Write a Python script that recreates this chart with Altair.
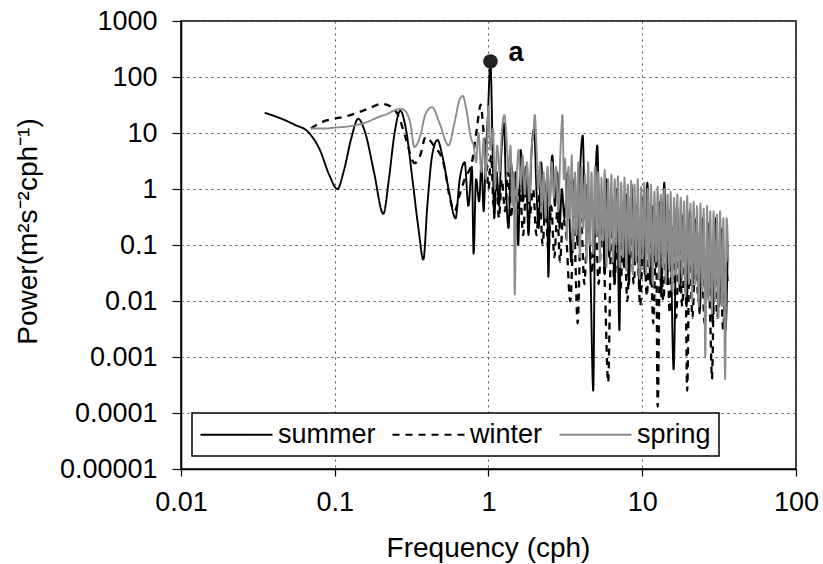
import altair as alt
import pandas as pd

FONT = "Liberation Sans"

series_names = ["summer", "winter", "spring"]
series_colors = ["#000000", "#000000", "#8c8c8c"]
series_dashes = [[1, 0], [7, 6], [1, 0]]
series_widths = [1.9, 2.3, 1.9]

x_ticks = [0.01, 0.1, 1, 10, 100]
y_ticks = [0.00001, 0.0001, 0.001, 0.01, 0.1, 1, 10, 100, 1000]

# ---- summer (solid black) ----
summer_f = [
    0.035, 0.045, 0.055, 0.067, 0.08, 0.092, 0.104, 0.115, 0.128, 0.142,
    0.158, 0.18, 0.207, 0.225, 0.245, 0.267, 0.29, 0.32, 0.35, 0.377,
    0.40, 0.43, 0.466, 0.5, 0.55, 0.61, 0.65, 0.7, 0.74, 0.78,
    0.8, 0.83, 0.87, 0.9, 0.93, 0.96, 0.99, 1.03, 1.06, 1.09,
    1.13, 1.17, 1.21, 1.26, 1.3, 1.35, 1.4, 1.45, 1.5, 1.56,
    1.62, 1.68, 1.75, 1.82, 1.9, 1.98, 2.05, 2.12, 2.2, 2.3,
    2.4, 2.45, 2.52, 2.6, 2.7, 2.8, 2.9, 3.0,
]
summer_p = [
    23, 18, 14, 10.5, 5, 1.8, 1.0, 2.2, 8, 18,
    10, 2, 0.36, 1.5, 10, 25, 12, 1.5, 0.2, 0.055,
    0.5, 4, 7.5, 4, 1, 0.3, 1.5, 3, 0.5, 2.5,
    0.07, 1.5, 0.6, 3, 0.4, 4, 20, 190, 8, 0.3,
    2, 0.5, 4, 15, 1, 0.2, 3, 0.8, 2, 0.1,
    5, 0.6, 2.5, 0.15, 4, 12, 1, 0.2, 3, 0.3,
    1.5, 0.027, 0.8, 4, 0.5, 2, 0.2, 1,
]
summer_hf_f = [
    3.12, 3.28, 3.45, 3.62, 3.8, 3.95, 4.1, 4.25, 4.4, 4.6,
    4.8, 4.95, 5.1, 5.3, 5.5, 5.7, 5.9, 6.1, 6.35, 6.6,
    6.85, 7.1, 7.3, 7.6, 7.9, 8.2, 8.5, 8.8, 9.2, 9.6,
    10.0, 10.4, 10.8, 11.3, 11.8, 12.3, 12.8, 13.3, 13.9, 14.5,
    15.1, 16.0, 16.8, 17.6, 18.5, 19.4, 20.4, 21.4, 22.5, 23.6,
    24.8, 26.0, 27.3, 28.7, 30.1, 31.6, 33.2, 34.8, 36.0,
]
summer_hf_p = [
    0.3, 2, 0.05, 1.5, 0.1, 2.5, 9, 0.3, 1.2, 0.04,
    0.00025, 1, 6, 0.1, 0.8, 0.03, 1.5, 0.06, 0.7, 0.02,
    1, 0.003, 0.6, 0.04, 0.8, 0.02, 1.2, 0.05, 0.5, 0.015,
    0.7, 0.03, 1.3, 0.02, 0.5, 0.04, 0.6, 0.012, 1.3, 0.02,
    0.4, 0.0006, 0.5, 0.015, 0.35, 0.008, 0.4, 0.02, 0.3, 0.006,
    0.3, 0.01, 0.25, 0.004, 0.3, 0.008, 0.2, 0.003, 0.1,
]

# ---- winter (dashed black) ----
winter_f = [
    0.07, 0.084, 0.1, 0.12, 0.14, 0.17, 0.2, 0.23, 0.26, 0.29,
    0.33, 0.36, 0.39, 0.44, 0.51, 0.56, 0.6, 0.65, 0.7, 0.78,
    0.84, 0.89, 0.93, 0.97, 1.0, 1.04, 1.08, 1.12, 1.17, 1.22,
    1.28, 1.34, 1.4, 1.46, 1.52, 1.6, 1.68, 1.76, 1.85, 1.95,
    2.05, 2.15, 2.25, 2.35, 2.45, 2.56, 2.68, 2.8, 2.92, 3.05,
]
winter_p = [
    12, 16, 18, 20, 23, 28, 33, 30, 20, 8,
    2.9, 4, 8.5, 6, 2.9, 0.7, 0.4, 0.8, 1.5, 3,
    12, 32, 10, 3, 1, 4, 0.5, 2, 0.3, 1.5,
    0.4, 2, 0.3, 1.5, 0.2, 1, 0.15, 1.2, 0.3, 1,
    0.15, 0.8, 0.1, 0.6, 0.08, 0.5, 0.06, 0.4, 0.05, 0.3,
]
winter_hf_f = [
    3.2, 3.4, 3.6, 3.8, 4.0, 4.2, 4.45, 4.7, 4.95, 5.2,
    5.5, 5.75, 6.0, 6.3, 6.6, 6.9, 7.2, 7.6, 8.0, 8.4,
    8.8, 9.2, 9.7, 10.2, 10.7, 11.2, 11.8, 12.3, 12.6, 13.1,
    13.7, 14.4, 15.1, 15.8, 16.6, 17.4, 18.2, 19.0, 19.6, 20.3,
    21.2, 22.2, 23.2, 24.3, 25.4, 26.6, 27.8, 28.4, 29.5, 30.8,
    32.2, 33.6, 35.0, 36.0,
]
winter_hf_p = [
    0.15, 0.01, 0.2, 0.004, 0.3, 0.02, 0.5, 0.03, 0.4, 0.02,
    0.3, 0.01, 0.00035, 0.2, 0.02, 0.3, 0.015, 0.25, 0.01, 0.3,
    0.02, 0.2, 0.008, 0.3, 0.012, 0.2, 0.004, 0.15, 0.00013, 0.2,
    0.01, 0.15, 0.006, 0.2, 0.005, 0.1, 0.008, 0.12, 0.00025, 0.1,
    0.005, 0.08, 0.01, 0.1, 0.004, 0.08, 0.003, 0.0004, 0.06, 0.005,
    0.05, 0.003, 0.04, 0.02,
]

# ---- spring (solid gray) ----
spring_f = [
    0.07, 0.085, 0.1, 0.12, 0.14, 0.165, 0.19, 0.22, 0.25, 0.27,
    0.29, 0.31, 0.33, 0.36, 0.39, 0.43, 0.48, 0.55, 0.6, 0.65,
    0.68, 0.72, 0.77, 0.8, 0.83, 0.86, 0.9, 0.93, 0.96, 1.0,
    1.03, 1.07, 1.1, 1.14, 1.18, 1.22, 1.27, 1.31, 1.35, 1.39,
    1.43, 1.46, 1.48, 1.52, 1.57, 1.62, 1.67, 1.72, 1.78, 1.84,
    1.9, 1.96, 2.0, 2.05, 2.1, 2.16, 2.22, 2.28, 2.35, 2.42,
    2.5, 2.58, 2.66, 2.75, 2.84, 2.93, 3.03, 3.09,
]
spring_p = [
    12, 12, 12.5, 13, 14, 16, 19, 22, 26, 27,
    24, 15, 5.6, 9, 22, 29, 15, 6, 15, 40,
    46, 25, 8, 6, 3, 10, 2, 8, 1.5, 30,
    5, 12, 1, 6, 2, 10, 21, 8, 2, 6,
    0.5, 2, 0.013, 1, 5, 1.2, 4, 0.8, 3, 0.6,
    5, 10, 21, 6, 1, 3, 0.4, 2, 0.3, 2.5,
    0.5, 3, 0.7, 2.5, 0.4, 4, 21, 1.5,
]
spring_hf_f = [
    3.15, 3.23, 3.31, 3.39, 3.48, 3.56, 3.65, 3.74, 3.84, 3.93,
    4.03, 4.13, 4.24, 4.34, 4.45, 4.56, 4.68, 4.80, 4.92, 5.04,
    5.17, 5.30, 5.43, 5.56, 5.70, 5.85, 6.00, 6.14, 6.30, 6.45,
    6.62, 6.78, 6.95, 7.13, 7.30, 7.49, 7.67, 7.87, 8.06, 8.27,
    8.47, 8.69, 8.90, 9.13, 9.35, 9.59, 9.83, 10.07, 10.3, 10.6,
    10.85, 11.1, 11.4, 11.7, 12.0, 12.3, 12.6, 12.9, 13.2, 13.6,
    13.9, 14.2, 14.6, 15.0, 15.3, 15.7, 16.1, 16.5, 16.9, 17.3,
    17.8, 18.2, 18.7, 19.1, 19.6, 20.1, 20.6, 21.1, 21.6, 22.2,
    22.7, 23.3, 23.9, 24.5, 25.1, 25.7, 26.4, 27.0, 27.7, 28.4,
    29.1, 29.8, 30.6, 31.3, 32.1, 32.9, 33.7, 34.6, 35.4, 36.3,
]
spring_hf_p = [
    3.5, 0.12, 2.5, 0.3, 4, 0.08, 2, 0.15, 3, 0.06,
    2.5, 0.2, 1.8, 0.05, 3, 0.1, 2, 0.07, 2.5, 0.15,
    2, 0.05, 1.6, 0.12, 2.2, 0.04, 1.5, 0.08, 1.8, 0.05,
    1.5, 0.1, 1.7, 0.04, 1.3, 0.06, 1.6, 0.035, 1.2, 0.07,
    1.4, 0.03, 1.2, 0.05, 1.5, 0.025, 1.1, 0.06, 1.3, 0.03,
    1.0, 0.04, 1.2, 0.02, 0.9, 0.05, 1.1, 0.025, 0.8, 0.04,
    1.0, 0.02, 0.8, 0.035, 0.9, 0.015, 0.7, 0.03, 0.8, 0.02,
    0.7, 0.025, 0.6, 0.012, 0.75, 0.02, 0.55, 0.01, 0.6, 0.02,
    0.5, 0.008, 0.55, 0.015, 0.45, 0.001, 0.5, 0.01, 0.4, 0.006,
    0.4, 0.01, 0.35, 0.005, 0.4, 0.008, 0.3, 0.0004, 0.3, 0.05,
]

# ---- marked peak "a" ----
peak_f = [1.03]
peak_p = [190]
peak_label = ["a"]


def frame(name, f, p):
    assert len(f) == len(p), (name, len(f), len(p))
    return pd.DataFrame({"freq": f, "power": p, "series": name})


df = pd.concat(
    [
        frame("summer", summer_f + summer_hf_f, summer_p + summer_hf_p),
        frame("winter", winter_f + winter_hf_f, winter_p + winter_hf_p),
        frame("spring", spring_f + spring_hf_f, spring_p + spring_hf_p),
    ],
    ignore_index=True,
)
peak_df = pd.DataFrame({"freq": peak_f, "power": peak_p, "label": peak_label})

x_enc = alt.X(
    "freq:Q",
    scale=alt.Scale(type="log", domain=[0.01, 100], nice=False),
    axis=alt.Axis(
        values=x_ticks, format="~g", title="Frequency (cph)",
        grid=True, tickSize=7, labelPadding=13, labelFlush=False,
        titleX=307, titleY=79, titleBaseline="middle", titleAlign="center",
    ),
)
y_enc = alt.Y(
    "power:Q",
    scale=alt.Scale(type="log", domain=[0.00001, 1000], nice=False),
    axis=alt.Axis(
        values=y_ticks, format="~g", title="Power(m²s⁻²cph⁻¹)",
        grid=True, tickSize=9, labelPadding=15, labelFlush=False,
        titleX=-153, titleY=210, titleBaseline="middle", titleAlign="center",
    ),
)
color_enc = alt.Color(
    "series:N",
    scale=alt.Scale(domain=series_names, range=series_colors),
    legend=alt.Legend(title=None),
)
dash_enc = alt.StrokeDash(
    "series:N",
    scale=alt.Scale(domain=series_names, range=series_dashes),
    legend=alt.Legend(title=None),
)

base = alt.Chart(df)
layers = []
for name, w in zip(series_names, series_widths):
    layers.append(
        base.transform_filter(alt.datum.series == name)
        .mark_line(strokeWidth=w, interpolate="monotone", clip=True)
        .encode(x=x_enc, y=y_enc, color=color_enc, strokeDash=dash_enc)
    )

peak = alt.Chart(peak_df)
dot = peak.mark_circle(size=210, color="#222222", opacity=1).encode(
    x=alt.X("freq:Q"), y=alt.Y("power:Q")
)
lab = peak.mark_text(
    align="left", baseline="middle", dx=18, dy=-8,
    font=FONT, fontSize=27, fontWeight="bold", color="black",
).encode(x=alt.X("freq:Q"), y=alt.Y("power:Q"), text="label:N")

chart = (
    alt.layer(*layers, dot, lab)
    .properties(
        width=615, height=448,
        autosize=alt.AutoSizeParams(type="none"),
        padding={"left": 181, "top": 21, "right": 27, "bottom": 95},
        background="white",
    )
    .configure_view(stroke="black", strokeWidth=1.5)
    .configure_axis(
        labelFont=FONT, labelFontSize=27, labelColor="black",
        titleFont=FONT, titleFontSize=28, titleColor="black", titleFontWeight="normal",
        domainColor="black", domainWidth=1.5, tickColor="black", tickWidth=1.2,
        gridColor="#555555", gridDash=[2, 4], gridWidth=1, gridOpacity=1,
    )
    .configure_legend(
        orient="none", legendX=11, legendY=392, direction="horizontal",
        fillColor="white", strokeColor="black", strokeWidth=1.5, padding=8,
        symbolType="M-3,0L3,0", symbolSize=576, symbolStrokeWidth=2,
        symbolOffset=23, labelOffset=28,
        labelFont=FONT, labelFontSize=27, labelColor="black",
        columnPadding=12,
    )
)

chart.save("out.html", embed_options={"renderer": "svg", "actions": False})
